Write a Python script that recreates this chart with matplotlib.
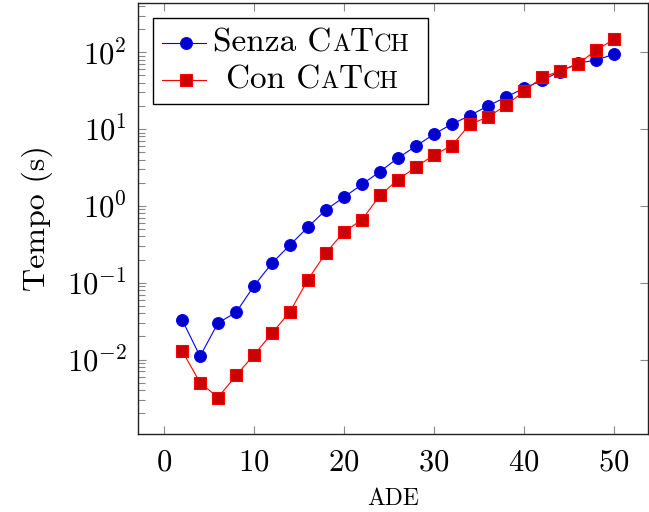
import matplotlib
matplotlib.use("Agg")
import matplotlib.pyplot as plt
from matplotlib.lines import Line2D
from matplotlib.offsetbox import AnchoredOffsetbox, HPacker, VPacker, TextArea, DrawingArea
from matplotlib.ticker import LogLocator, NullFormatter

plt.rcParams["font.family"] = "cmr10"
plt.rcParams["mathtext.fontset"] = "cm"
plt.rcParams["axes.formatter.use_mathtext"] = True

ade = [2, 4, 6, 8, 10, 12, 14, 16, 18, 20, 22, 24, 26,
       28, 30, 32, 34, 36, 38, 40, 42, 44, 46, 48, 50]
senza = [0.033, 0.011, 0.030, 0.041, 0.091, 0.18, 0.31, 0.53, 0.89, 1.3,
         1.9, 2.8, 4.2, 6.0, 8.6, 11.6, 15, 20, 26, 34, 43, 56, 72, 79, 94]
con = [0.013, 0.005, 0.0032, 0.0062, 0.0115, 0.022, 0.042, 0.11, 0.245, 0.46,
       0.66, 1.37, 2.2, 3.2, 4.6, 6.1, 11.6, 14.3, 20.4, 31, 47, 57, 70, 106, 147]

blue_fill = "#0000cc"
red_fill = "#cc0000"

fig = plt.figure(figsize=(6.49, 5.12), dpi=100)
ax = fig.add_axes([0.2126, 0.1523, 0.786, 0.8417])

ax.plot(ade, senza, color="blue", lw=0.8, marker="o", ms=8.5,
        mfc=blue_fill, mec="blue", mew=0.8)
ax.plot(ade, con, color="red", lw=0.8, marker="s", ms=8.5,
        mfc=red_fill, mec="red", mew=0.8)

ax.set_yscale("log")
ax.set_xlim(-2.9, 53.8)
ax.set_ylim(10**-2.97, 10**2.64)
ax.set_xticks([0, 10, 20, 30, 40, 50])
ax.yaxis.set_major_locator(LogLocator(base=10, numticks=10))
ax.yaxis.set_minor_locator(LogLocator(base=10, subs=range(2, 10), numticks=20))
ax.yaxis.set_minor_formatter(NullFormatter())

ax.tick_params(which="both", direction="in", color="#888888", labelsize=22,
               top=True, right=True, length=6, width=0.8, pad=8)
ax.tick_params(axis="x", pad=11)
ax.tick_params(axis="y", which="minor", right=False, length=5)
for sp in ax.spines.values():
    sp.set_linewidth(1.0)
    sp.set_color("#222222")

ax.set_ylabel("Tempo (s)", fontsize=23, labelpad=10)
ax.set_xlabel("ADE", fontsize=17, labelpad=8)

# legend with small caps built from text pieces
ROW_H = 26.6

def handle(color, fill, marker):
    da = DrawingArea(34, ROW_H, 0, 0)
    da.add_artist(Line2D([2, 34], [ROW_H / 2] * 2, color=color, lw=0.8))
    da.add_artist(Line2D([19], [ROW_H / 2], marker=marker, ms=8.5, mfc=fill, mec=color, mew=0.8))
    return da

def label(parts):
    boxes = [TextArea(s, textprops=dict(fontsize=fs)) for s, fs in parts]
    return HPacker(children=boxes, pad=0, sep=0, align="baseline")

row1 = HPacker(children=[handle("blue", blue_fill, "o"),
                         label([("Senza C", 24), ("A", 17.5), ("T", 24), ("CH", 17.5)]),
                         DrawingArea(4, 1)],
               pad=0, sep=5, align="center")
row2 = HPacker(children=[handle("red", red_fill, "s"),
                         label([("Con C", 24), ("A", 17.5), ("T", 24), ("CH", 17.5)])],
               pad=0, sep=14, align="center")
box = VPacker(children=[row1, row2], pad=0, sep=0, align="left")
leg = AnchoredOffsetbox(loc="upper left", child=box, pad=0.43, borderpad=1.1, frameon=True,
                        bbox_to_anchor=(0, 1), bbox_transform=ax.transAxes)
leg.patch.set_boxstyle("square", pad=0)
leg.patch.set_linewidth(1.0)
ax.add_artist(leg)

fig.savefig("out.png", dpi=100)
